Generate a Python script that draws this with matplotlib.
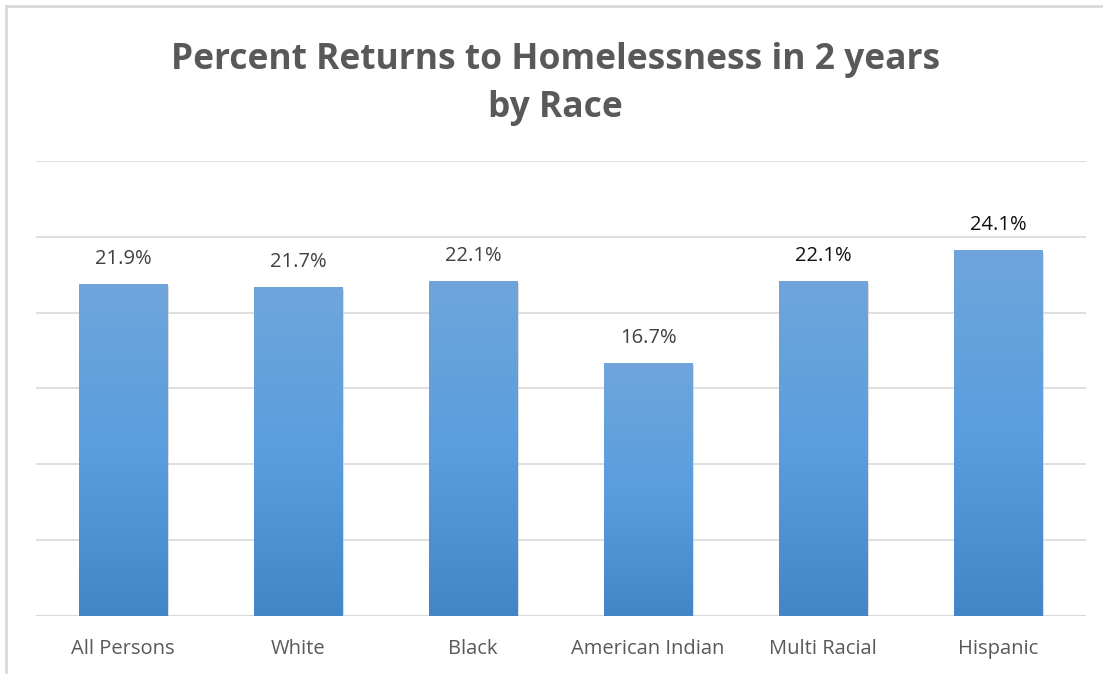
import numpy as np
import matplotlib
matplotlib.use("Agg")
import matplotlib.pyplot as plt
from matplotlib.patches import Rectangle
from matplotlib.lines import Line2D
from matplotlib.colors import LinearSegmentedColormap

categories = ["All Persons", "White", "Black", "American Indian", "Multi Racial", "Hispanic"]
values = [21.9, 21.7, 22.1, 16.7, 22.1, 24.1]
labels = ["21.9%", "21.7%", "22.1%", "16.7%", "22.1%", "24.1%"]
label_colors = ["#404040", "#404040", "#404040", "#404040", "#111111", "#111111"]
title = "Percent Returns to Homelessness in 2 years\nby Race"

fig = plt.figure(figsize=(11.03, 6.75), dpi=100)
ax = fig.add_axes([0.0322, 0.0874, 0.9520, 0.6741])

x = np.arange(len(categories))
width = 0.503
bars = ax.bar(x, values, width=width, color="none", zorder=3)

grad = np.linspace(0, 1, 256).reshape(-1, 1)
cmap = LinearSegmentedColormap.from_list("g", ["#4187c8", "#5a9edf", "#6fa5db"])
for b in bars:
    x0, w, h = b.get_x(), b.get_width(), b.get_height()
    ax.add_patch(Rectangle((x0 + 0.012, -0.15), w, h, facecolor="#c8c8c8",
                           edgecolor="none", alpha=0.6, zorder=2))
    im = ax.imshow(grad, extent=(x0, x0 + w, 0, h), origin="lower", cmap=cmap,
                   aspect="auto", zorder=3)
    im.set_clip_path(b)

for xi, v, lab, c in zip(x, values, labels, label_colors):
    ax.text(xi, v + 1.0, lab, ha="center", va="bottom", fontsize=14.5,
            color=c, family="Open Sans")

ax.set_xlim(-0.5, len(categories) - 0.5)
ax.set_ylim(0, 30)
ax.set_yticks(np.arange(0, 31, 5))
ax.yaxis.grid(True, color="#d9d9d9", linewidth=1.2, zorder=0)
ax.set_axisbelow(True)
ax.tick_params(axis="y", left=False, labelleft=False)
ax.tick_params(axis="x", bottom=False, pad=13)
ax.set_xticks(x)
ax.set_xticklabels(categories, fontsize=14.5, color="#595959", family="Open Sans")
for s in ax.spines.values():
    s.set_visible(False)
ax.axhline(0, color="#d9d9d9", linewidth=1.5, zorder=1)

fig.text(0.5035, 0.875, title, ha="center", va="center", fontsize=25.5,
         fontweight="bold", color="#595959", family="Open Sans", linespacing=1.45)

# chart border (top and left visible)
fig.add_artist(Line2D([5.5 / 1103, 1.0], [1 - 5.5 / 675] * 2, transform=fig.transFigure,
                      color="#d9d9d9", linewidth=2))
fig.add_artist(Line2D([5.5 / 1103] * 2, [1 - 5.5 / 675, 3 / 675], transform=fig.transFigure,
                      color="#d9d9d9", linewidth=2))

fig.savefig("out.png", dpi=100)
